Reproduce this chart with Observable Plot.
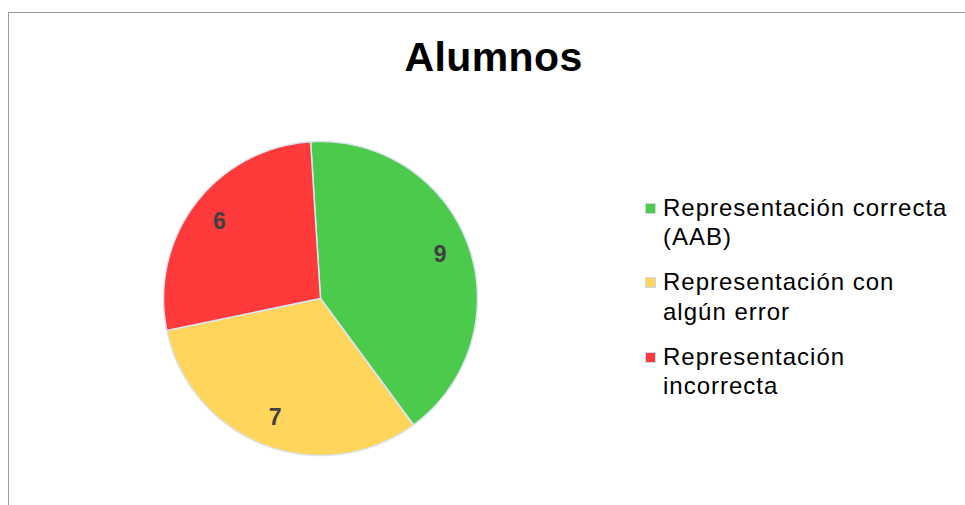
<!DOCTYPE html>
<html><head><meta charset="utf-8">
<script src="https://cdn.jsdelivr.net/npm/d3@7"></script>
<script src="https://cdn.jsdelivr.net/npm/@observablehq/plot@0.6"></script>
<style>
body{margin:0;background:#fff;}
#wrap{position:relative;width:965px;height:505px;overflow:hidden;font-family:"Liberation Sans",Arial,Helvetica,sans-serif;background:#fff;}
#border{position:absolute;left:8px;top:12px;width:1000px;height:600px;border-left:1px solid #9c9c9c;border-top:1px solid #9c9c9c;}
#title{position:absolute;left:0;width:987px;top:36.8px;line-height:41px;font-size:41px;font-weight:bold;text-align:center;color:#000;letter-spacing:0.4px;}
#chart{position:absolute;left:0;top:0;}
#legend{position:absolute;left:663px;top:192.9px;}
.item{position:relative;font-size:24px;line-height:29.5px;letter-spacing:1px;color:#000;margin-bottom:15.5px;}
.sw{position:absolute;left:-18px;top:10px;width:9px;height:9px;border:1px solid #c9d8ee;}
</style></head><body><div id="wrap"><div id="border"></div><div id="chart"></div><div id="title"></div><div id="legend"></div></div>
<script>
const title = "Alumnos";
const categories = ["Representación correcta (AAB)", "Representación con algún error", "Representación incorrecta"];
const values = [9, 7, 6];
const colors = ["#4bca4b", "#ffd55b", "#ff3a3a"];
const startAngle = -3.6; // degrees, clockwise from 12 o'clock

document.getElementById("title").textContent = title;

const total = d3.sum(values);
const rad = Math.PI / 180;
const pt = (deg, r = 1) => [Math.sin(deg * rad) * r, -Math.cos(deg * rad) * r];

let acc = startAngle;
const slices = categories.map((c, i) => {
  const a0 = acc, a1 = acc + values[i] / total * 360;
  acc = a1;
  const n = Math.max(2, Math.ceil((a1 - a0) / 0.5));
  const ring = [[0, 0]];
  for (let k = 0; k <= n; k++) ring.push(pt(a0 + (a1 - a0) * k / n));
  ring.push([0, 0]);
  return {category: c, value: values[i], a0, a1, ring};
});

const features = slices.map(s => ({type: "Feature", properties: {category: s.category}, geometry: {type: "Polygon", coordinates: [s.ring]}}));
const labels = slices.map(s => { const [x, y] = pt((s.a0 + s.a1) / 2, 0.81); return {x, y, text: String(s.value)}; });
const circle = {type: "Polygon", coordinates: [d3.range(0, 361, 1).map(d => pt(d))]};

const plot = Plot.plot({
  width: 965, height: 505,
  marginLeft: 163, marginRight: 488, marginTop: 141, marginBottom: 50,
  projection: {type: "identity", domain: circle},
  color: {domain: categories, range: colors},
  style: {background: "transparent", overflow: "visible"},
  marks: [
    Plot.geo(features, {fill: d => d.properties.category, stroke: "#dae5f3", strokeWidth: 1.5}),
    Plot.text(labels, {x: "x", y: "y", text: "text", fontSize: 23, fontWeight: "bold", fill: "#404040", fontFamily: "Liberation Sans, Arial, sans-serif"})
  ]
});
document.getElementById("chart").append(plot);

// legend
const legend = document.getElementById("legend");
const meas = document.createElement("span");
meas.className = "item"; meas.style.visibility = "hidden"; meas.style.position = "absolute"; meas.style.whiteSpace = "nowrap";
meas.textContent = "Representación correcta";
legend.append(meas);
const maxW = Math.ceil(meas.getBoundingClientRect().width) + 3;
meas.remove();
categories.forEach((c, i) => {
  const it = document.createElement("div");
  it.className = "item"; it.style.width = maxW + "px";
  const sw = document.createElement("span"); sw.className = "sw"; sw.style.background = colors[i];
  it.append(sw, document.createTextNode(c));
  legend.append(it);
});
</script>
</body></html>
